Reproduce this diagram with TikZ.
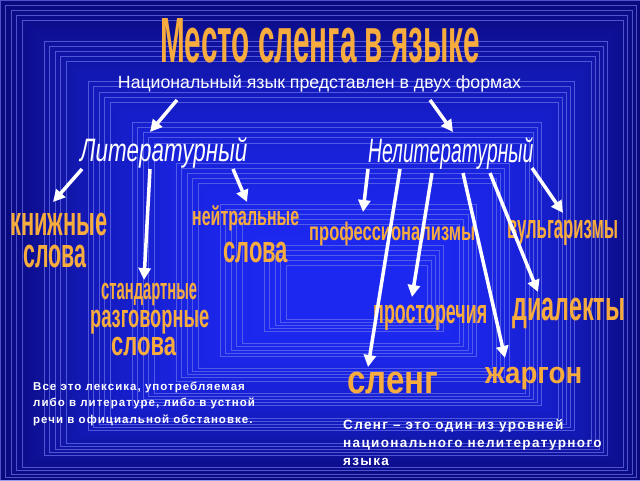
\documentclass[tikz,border=0pt]{standalone}
\usepackage{fontspec}
\setmainfont{Liberation Sans}
\usepackage{graphicx}
\usetikzlibrary{arrows.meta}

\definecolor{bgout}{RGB}{10,10,125}
\definecolor{bgin}{RGB}{28,40,240}
\definecolor{bgline}{RGB}{105,115,235}
\definecolor{wordorange}{RGB}{248,172,62}

% a lower-case word stretched to a given width and x-height
\newlength{\artwd}
\newlength{\artht}
\newcommand{\artword}[3]{%
  \settowidth{\artwd}{#3}\setlength{\artht}{1ex}%
  \pgfmathsetmacro\artxs{#1/\artwd}%
  \pgfmathsetmacro\artys{#2/\artht}%
  \raisebox{0pt}[#2pt][0pt]{\scalebox{\artxs}[\artys]{#3}}}
% a capitalised word stretched to a given width and height
\newcommand{\artcaps}[3]{\resizebox{#1pt}{#2pt}{#3}}

\tikzset{
  word/.style={anchor=base west, inner sep=0pt, text=wordorange, font=\bfseries},
  form/.style={anchor=base west, inner sep=0pt, text=white, font=\itshape},
  arr/.style={line width=3.5pt, white, -{Triangle[length=12pt,width=12pt]}},
  note/.style={anchor=north west, inner sep=0pt, text=white, align=left}
}

\begin{document}
\begin{tikzpicture}[x=1pt, y=-1pt]
\useasboundingbox (0,0) rectangle (640,480);
% background frames
\foreach \k in {0,...,53} {
  \pgfmathsetmacro\pct{100*(1-(1-\k/53)^2)}
  \pgfmathtruncatemacro\lineon{mod(\k,8)<5}
  \fill[bgin!\pct!bgout] (\k*5.5, \k*5.1) rectangle (640-\k*4.1, 480-\k*3.1);
  \ifnum\lineon=1
    \draw[bgline, line width=0.6pt, opacity=0.7] (\k*5.5, \k*5.1) rectangle (640-\k*4.1, 480-\k*3.1);
  \fi
}

% title and the two forms
\node[word] (title) at (160,62) {\artcaps{320}{44}{Место сленга в языке}};
\node[anchor=base, inner sep=0pt, text=white] (sub) at (319.5,88) {\resizebox{403pt}{!}{Национальный язык представлен в двух формах}};
\node[form] (lit) at (80,161) {\artcaps{167}{24}{Литературный}};
\node[form] (nelit) at (368,162) {\artcaps{165}{25}{Нелитературный}};

% literary words
\node[word] (knizh) at (10,235) {\artword{97}{22}{книжные}};
\node[word] (slova1) at (23,267) {\artword{63}{22}{слова}};
\node[word] (neitr) at (192,225) {\artword{107}{14}{нейтральные}};
\node[word] (slova2) at (223,262) {\artword{65}{20}{слова}};
\node[word] (stand) at (101,299) {\artword{96}{16}{стандартные}};
\node[word] (razg) at (90,327) {\artword{119}{17}{разговорные}};
\node[word] (slova3) at (111,355) {\artword{65}{18}{слова}};

% non-literary words
\node[word] (prof) at (309,240) {\artword{166}{13.5}{профессионализмы}};
\node[word] (vulg) at (507,238) {\artword{111}{18}{вульгаризмы}};
\node[word] (prost) at (373,323) {\artword{114}{18}{просторечия}};
\node[word] (dial) at (512,320) {\artword{113}{22}{диалекты}};
\node[word] (sleng) at (347,393) {\artword{91}{21}{сленг}};
\node[word] (zharg) at (485,383) {\artword{97}{16}{жаргон}};

% notes
\node[note, font={\fontsize{11.5}{16.5}\selectfont\bfseries\addfontfeature{LetterSpace=9}}] (lexnote) at (33,381.5)
  {Все это лексика, употребляемая\\либо в литературе, либо в устной\\речи в официальной обстановке.};
\node[note, font={\fontsize{13.5}{18}\selectfont\bfseries\addfontfeature{LetterSpace=10}}] (slengnote) at (343,419)
  {Сленг – это один из уровней\\национального нелитературного\\языка};

% arrow ends
\coordinate (sub-l) at (177,100);
\coordinate (sub-r) at (430,100);
\coordinate (lit-in) at (150,132);
\coordinate (nelit-in) at (453,132);
\coordinate (lit-1) at (82,169);
\coordinate (lit-2) at (150,169);
\coordinate (lit-3) at (233,169);
\coordinate (knizh-in) at (53,202);
\coordinate (stand-in) at (144,280);
\coordinate (neitr-in) at (247,202);
\coordinate (nelit-1) at (368,169);
\coordinate (nelit-2) at (400,169);
\coordinate (nelit-3) at (432,173);
\coordinate (nelit-4) at (463,173);
\coordinate (nelit-5) at (490,173);
\coordinate (nelit-6) at (532,168);
\coordinate (prof-in) at (363,212);
\coordinate (sleng-in) at (368,367);
\coordinate (prost-in) at (412,297);
\coordinate (zharg-in) at (505,358);
\coordinate (dial-in) at (538,292);
\coordinate (vulg-in) at (563,213);

% arrows
\draw[arr] (sub-l) -- (lit-in);
\draw[arr] (sub-r) -- (nelit-in);
\draw[arr] (lit-1) -- (knizh-in);
\draw[arr] (lit-2) -- (stand-in);
\draw[arr] (lit-3) -- (neitr-in);
\draw[arr] (nelit-1) -- (prof-in);
\draw[arr] (nelit-2) -- (sleng-in);
\draw[arr] (nelit-3) -- (prost-in);
\draw[arr] (nelit-4) -- (zharg-in);
\draw[arr] (nelit-5) -- (dial-in);
\draw[arr] (nelit-6) -- (vulg-in);
\end{tikzpicture}
\end{document}
